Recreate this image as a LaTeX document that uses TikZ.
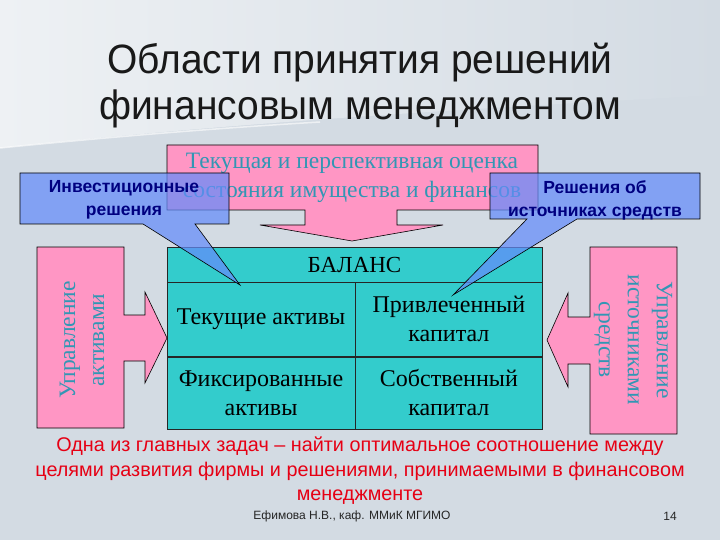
\documentclass[tikz,border=0pt]{standalone}
\usepackage{fontspec}
\setmainfont{Liberation Serif}
\setsansfont{Liberation Sans}
\newfontfamily\titlefont[FakeStretch=0.95]{Liberation Sans}
\usetikzlibrary{positioning}
\definecolor{slidebg}{RGB}{211,219,227}
\definecolor{slidelight}{RGB}{238,241,244}
\definecolor{pinkfill}{RGB}{255,150,196}
\definecolor{tablecyan}{RGB}{51,204,204}
\definecolor{calloutblue}{RGB}{100,140,250}
\definecolor{tealtext}{RGB}{50,150,180}
\definecolor{navytext}{RGB}{0,0,128}
\definecolor{redtext}{RGB}{230,0,20}

\begin{document}
\begin{tikzpicture}[x=1pt,y=-1pt,
  cell/.style={draw=black!85,fill=tablecyan,inner sep=2pt,align=center,font=\fontsize{24}{29}\selectfont},
  pinkshape/.style={draw=black,fill=pinkfill,line width=0.6pt},
  callout/.style={draw=black,fill=calloutblue,fill opacity=0.72,line width=0.6pt},
  callouttext/.style={align=center,text=navytext,font=\sffamily\bfseries\fontsize{17.5}{23}\selectfont},
  pinktext/.style={align=center,text=tealtext,font=\fontsize{23.5}{29}\selectfont}]
\useasboundingbox (0,0) rectangle (720,540);
\fill[slidebg] (0,0) rectangle (720,540);
\shade[left color=slidelight,right color=slidebg] (0,0) -- (720,0) -- (720,95) .. controls (480,108) and (240,122) .. (0,148) -- cycle;
\draw[white,opacity=0.6,line width=1.5pt] (0,148) .. controls (120,136) and (220,128) .. (320,122);

\draw[pinkshape] (167,145) -- (538,145) -- (538,210) -- (397,210) -- (397,225) -- (443,225) -- (352,241) -- (260,225) -- (305,225) -- (305,210) -- (167,210) -- cycle;
\node[pinktext] (estimate) at (352,178) {Текущая и перспективная оценка\\состояния имущества и финансов};

\node[cell,minimum width=375pt,minimum height=35pt,font=\fontsize{23}{27}\selectfont] (bal) at (354.5,264.5) {БАЛАНС};
\node[cell,minimum width=188pt,minimum height=74pt,anchor=north west] (cura) at (bal.south west) {Текущие активы};
\node[cell,minimum width=187pt,minimum height=74pt,anchor=north west] (borc) at (cura.north east) {Привлеченный\\капитал};
\node[cell,minimum width=188pt,minimum height=72pt,anchor=north west] (fixa) at (cura.south west) {Фиксированные\\активы};
\node[cell,minimum width=187pt,minimum height=72pt,anchor=north west] (ownc) at (fixa.north east) {Собственный\\капитал};

\draw[pinkshape] (37,247) -- (124,247) -- (124,315) -- (145,315) -- (145,292) -- (167,338) -- (145,383) -- (145,361) -- (124,361) -- (124,428) -- (37,428) -- cycle;
\node[pinktext,rotate=90] (assets) at (82,340) {Управление\\активами};
\draw[pinkshape] (590,247) -- (677,247) -- (677,434) -- (590,434) -- (590,364) -- (568,364) -- (568,387) -- (547,340) -- (568,293) -- (568,317) -- (590,317) -- cycle;
\node[pinktext,rotate=-90] (sources) at (633,340) {Управление\\источниками\\средств};

\draw[callout] (20,173) -- (229,173) -- (229,224) -- (195,224) -- (240,285) -- (143,224) -- (20,224) -- cycle;
\node[callouttext] (invest) at (124,200) {Инвестиционные\\решения};
\draw[callout] (490,173) -- (700,173) -- (700,219) -- (577,219) -- (453,295) -- (527,219) -- (490,219) -- cycle;
\node[callouttext] (finance) at (595,200) {Решения об\\источниках средств};

\node[align=center,text=black!90,font=\titlefont\fontsize{41}{46}\selectfont] (title) at (360,86) {Области принятия решений\\финансовым менеджментом};
\node[align=center,text=redtext,font=\sffamily\fontsize{19.8}{24.5}\selectfont] (goal) at (360,471) {Одна из главных задач – найти оптимальное соотношение между\\целями развития фирмы и решениями, принимаемыми в финансовом\\менеджменте};
\node[text=black!85,font=\sffamily\fontsize{12}{14}\selectfont] (author) at (352,516) {Ефимова Н.В., каф. ММиК МГИМО};
\node[text=black!85,font=\sffamily\fontsize{12}{14}\selectfont] (pagenum) at (670,516) {14};
\end{tikzpicture}
\end{document}
